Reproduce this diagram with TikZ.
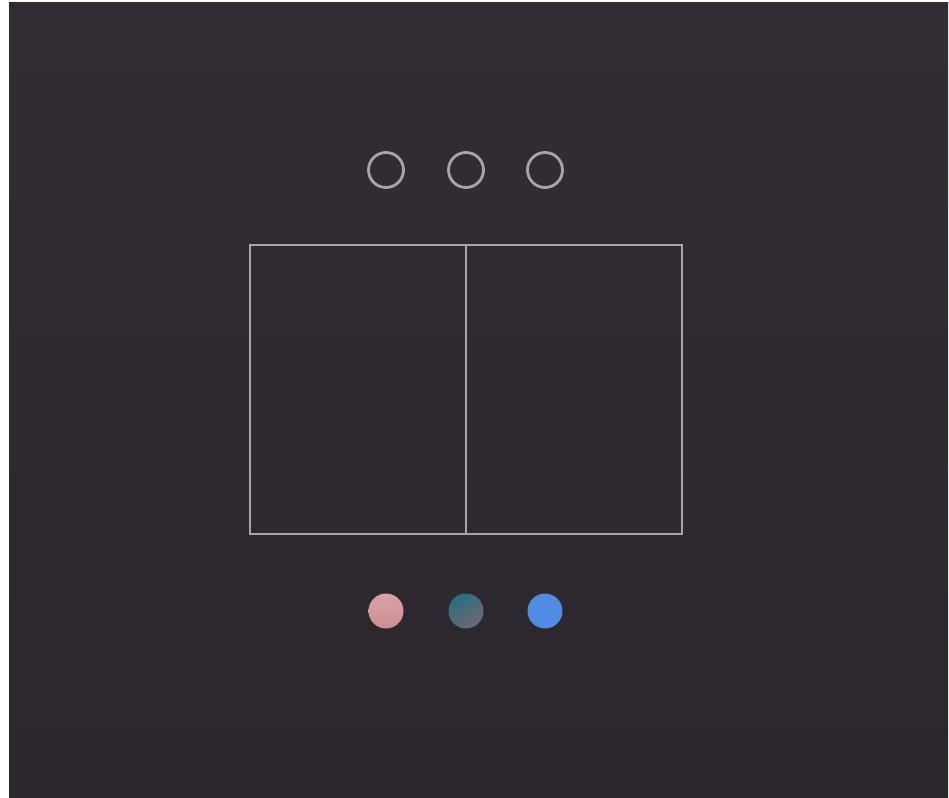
\documentclass[tikz,border=0pt]{standalone}
\usetikzlibrary{shadings}
\definecolor{bgtop}{HTML}{322D34}
\definecolor{bgbot}{HTML}{2B272D}
\definecolor{linec}{HTML}{ABA3AB}
\definecolor{pinkc}{HTML}{D9A2A6}
\definecolor{pinkd}{HTML}{CC8E92}
\definecolor{tealc}{HTML}{2A6F80}
\definecolor{tealg}{HTML}{6E6875}
\definecolor{bluec}{HTML}{528CE2}
\tikzset{
  ring/.style={circle, draw=linec, line width=2.8pt, minimum size=35pt, inner sep=0pt},
  dot/.style={circle, minimum size=35pt, inner sep=0pt},
  frame/.style={draw=linec, line width=2pt}
}
\begin{document}
\begin{tikzpicture}[x=1pt,y=-1pt]
\useasboundingbox (0,0) rectangle (949,797);
\fill[white] (0,0) rectangle (949,797);
\shade[top color=bgtop, bottom color=bgbot] (9,3) rectangle (948,797);
% rings
\node[ring] (r1) at (386,170) {};
\node[ring] (r2) at (466,170) {};
\node[ring] (r3) at (545,170) {};
% frame
\coordinate (tl) at (250,245);
\coordinate (br) at (682,534);
\coordinate (mt) at (466,245);
\coordinate (mb) at (466,534);
\draw[frame] (tl) rectangle (br);
\draw[frame, line width=2.6pt] (mt) -- (mb);
% dots
\node[dot, top color=pinkc, bottom color=pinkd] (d1) at (386,611) {};
\node[dot, top color=tealc, bottom color=tealg, shading angle=35] (d2) at (466,611) {};
\node[dot, fill=bluec] (d3) at (545,611) {};
\end{tikzpicture}
\end{document}
